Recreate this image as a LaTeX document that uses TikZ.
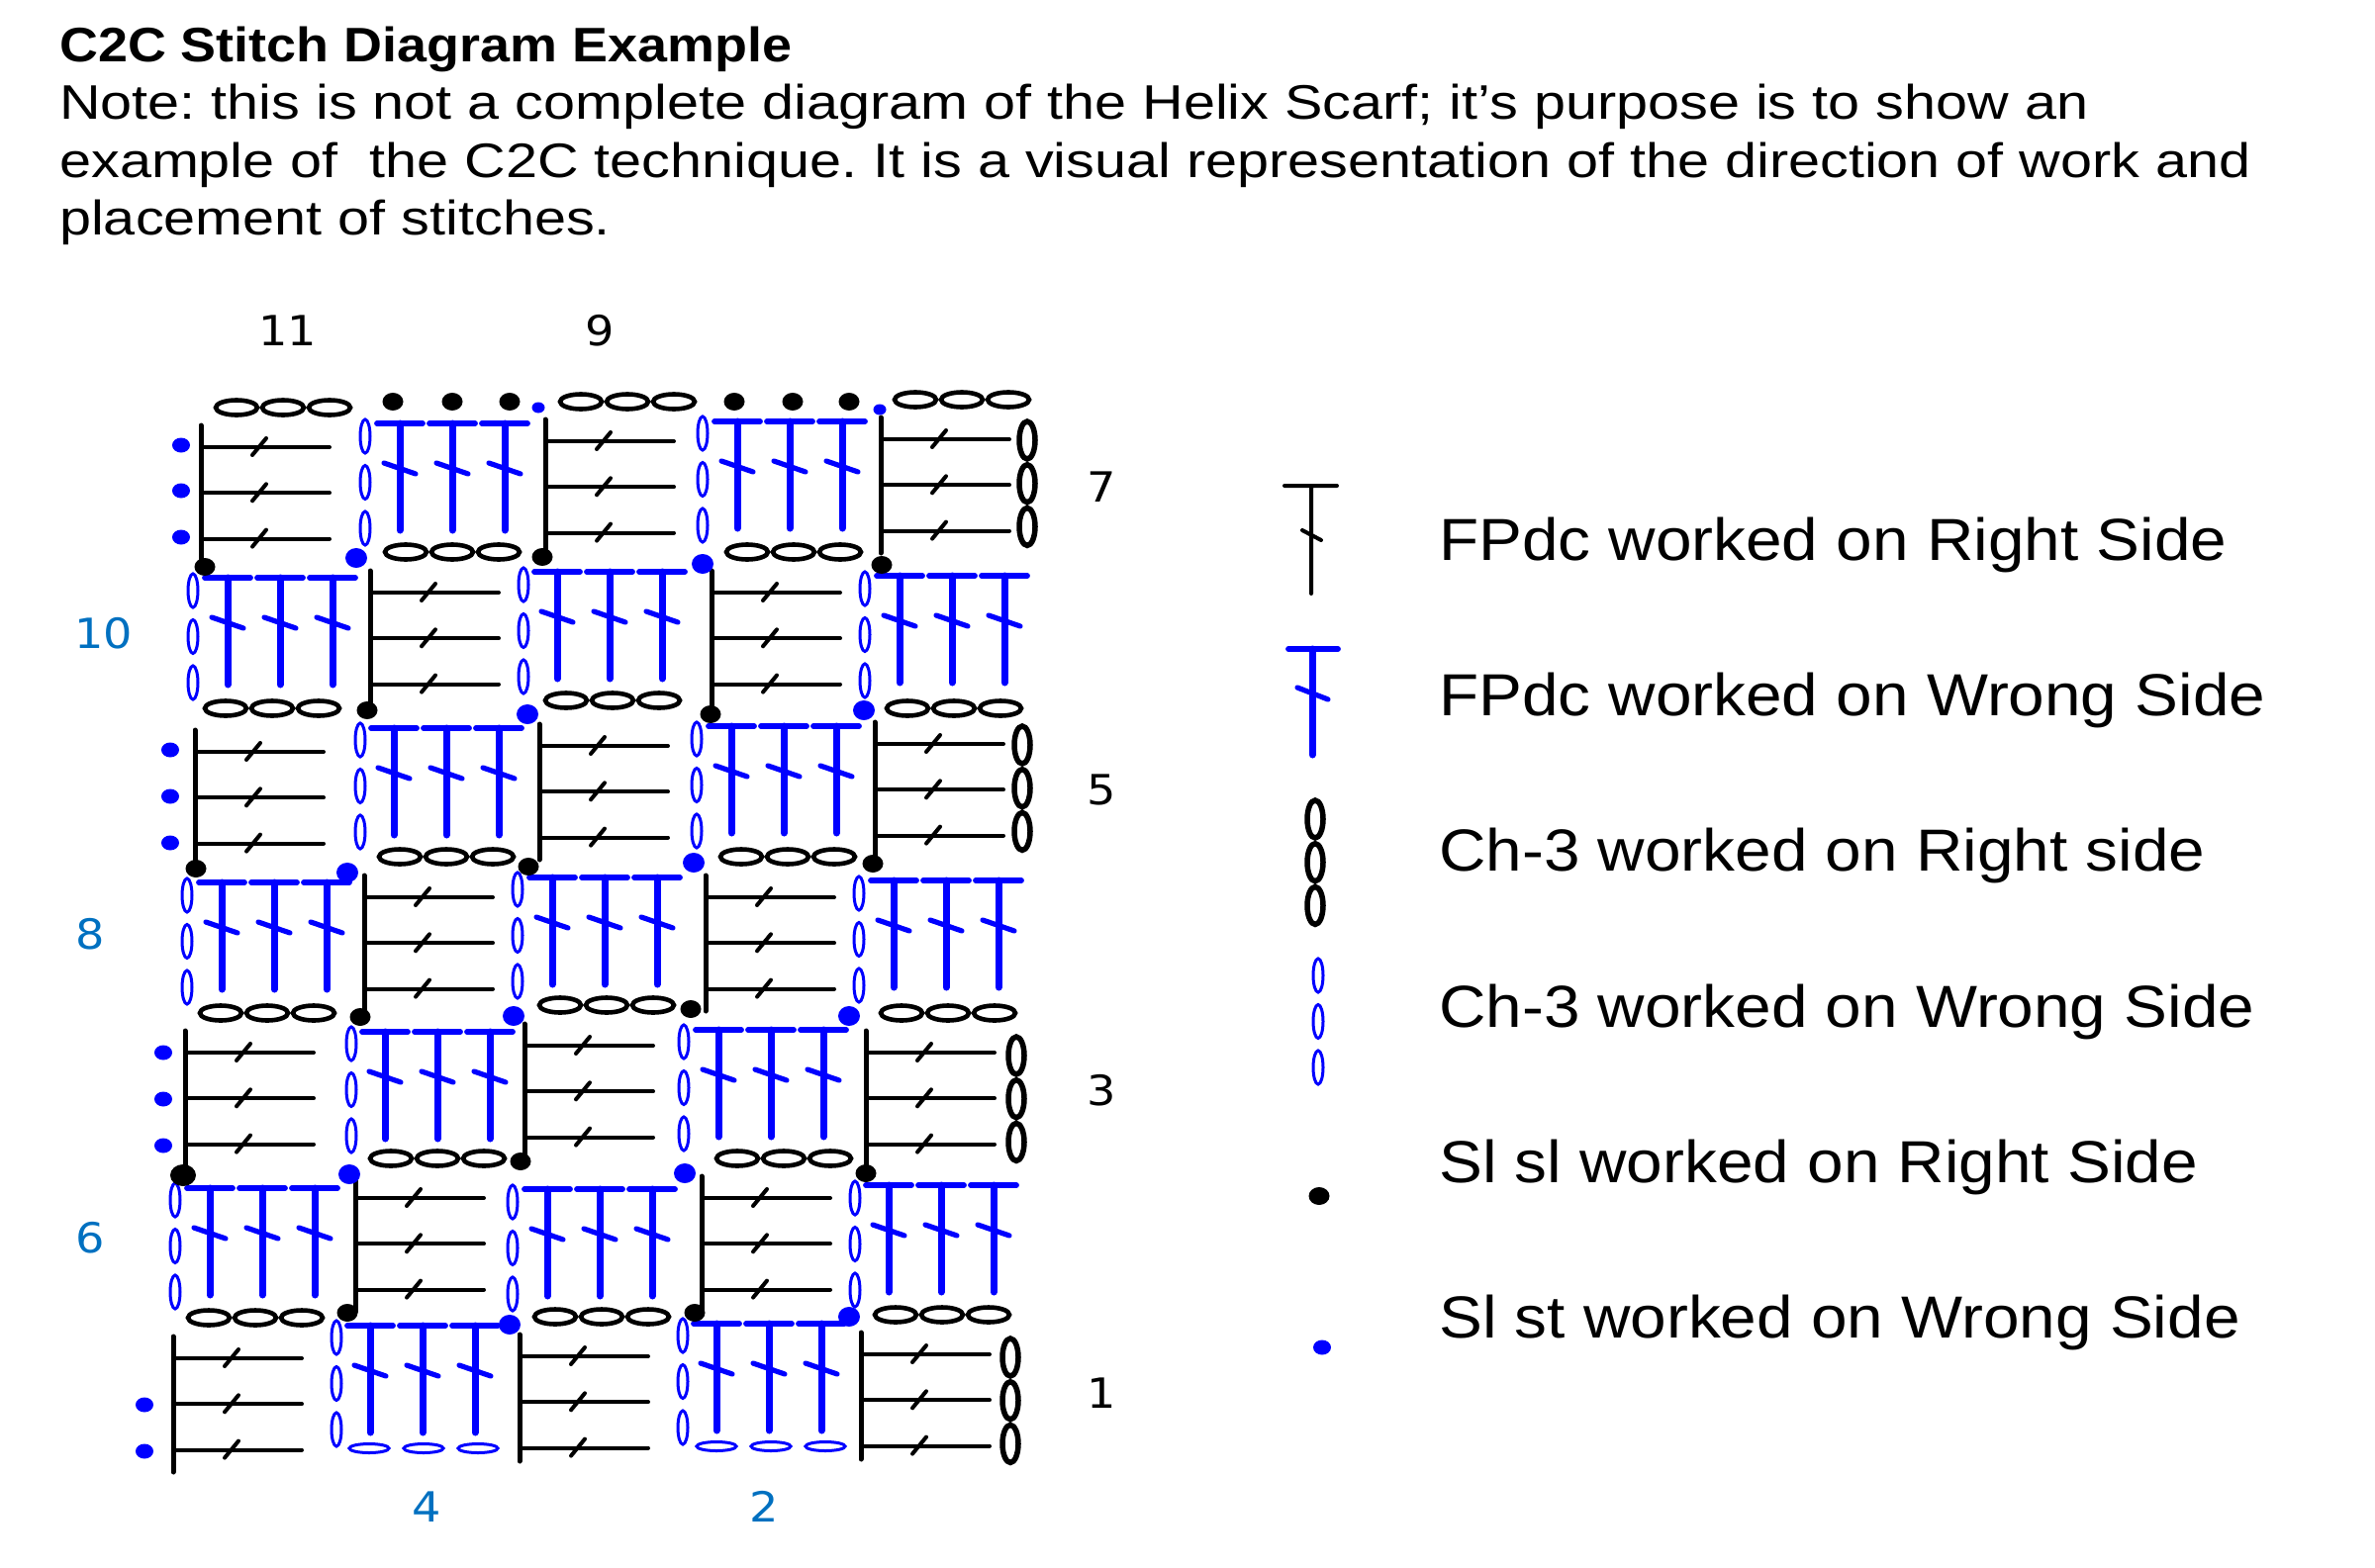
\documentclass[tikz,border=0pt]{standalone}
\usepackage{fontspec}
\setmainfont{Liberation Sans}
\newfontfamily\numfont[FakeStretch=1.1]{DejaVu Sans}
\newfontfamily\notefont[FakeStretch=1.175]{Liberation Sans}
\newfontfamily\titlefont[FakeStretch=1.1]{Liberation Sans}
\newfontfamily\keyfont[FakeStretch=1.095]{Liberation Sans}
\definecolor{wsblue}{RGB}{0,0,255}
\definecolor{rowblue}{RGB}{0,112,192}

\tikzset{
  headtext/.style={anchor=base west,inner sep=0pt,font=\notefont\fontsize{49}{58}\selectfont},
  titletext/.style={anchor=base west,inner sep=0pt,font=\titlefont\bfseries\fontsize{49}{58}\selectfont},
  legendtext/.style={anchor=base west,inner sep=0pt,font=\keyfont\fontsize{60}{70}\selectfont},
  rsnum/.style={anchor=base,inner sep=0pt,font=\numfont\fontsize{42}{50}\selectfont},
  wsnum/.style={rsnum,text=rowblue},
  rsthin/.style={black,line width=4pt,line cap=round},
  rsstem/.style={black,line width=5pt,line cap=round},
  wsbar/.style={wsblue,line width=5.8pt,line cap=round},
  wsstem/.style={wsblue,line width=7pt,line cap=round},
  wstick/.style={wsblue,line width=5.2pt,line cap=round},
  chblack/.style={black,line width=4.6pt},
  chtall/.style={black,line width=5.5pt},
  chblue/.style={wsblue,line width=3pt}
}

\newcommand{\fpright}[3][115]{
  \begin{scope}[shift={(#2,#3)}]
    \draw[rsstem] (0,-22) -- (0,#1);
    \draw[rsthin] (0,0) -- (130,0) (0,46.3) -- (130,46.3) (0,92.6) -- (130,92.6);
    \draw[rsthin] (52,8) -- (66,-9) (52,54.3) -- (66,37.3) (52,100.6) -- (66,83.6);
  \end{scope}
}
\newcommand{\fpwrong}[2]{
  \begin{scope}[shift={(#1,#2)}]
    \draw[wsbar] (-23,0) -- (23,0) (30,0) -- (76,0) (83,0) -- (129,0);
    \draw[wsstem] (0,0) -- (0,108) (53,0) -- (53,108) (106,0) -- (106,108);
    \draw[wstick] (-16,40) -- (16,51) (37,40) -- (69,51) (90,40) -- (122,51);
  \end{scope}
}
\newcommand{\chacross}[2]{
  \draw[chblack] (#1,#2) ellipse (21pt and 7.5pt) ++(47,0) ellipse (21pt and 7.5pt) ++(47,0) ellipse (21pt and 7.5pt);
}
\newcommand{\chup}[2]{
  \draw[chtall] (#1,#2) ellipse (8pt and 19pt) ++(0,43.7) ellipse (8pt and 19pt) ++(0,43.7) ellipse (8pt and 19pt);
}
\newcommand{\chupblue}[2]{
  \draw[chblue] (#1,#2) ellipse (5pt and 17pt) ++(0,46.5) ellipse (5pt and 17pt) ++(0,46.5) ellipse (5pt and 17pt);
}
\newcommand{\chflat}[2]{
  \draw[chblue] (#1,#2) ellipse (20pt and 4.5pt) ++(55,0) ellipse (20pt and 4.5pt) ++(55,0) ellipse (20pt and 4.5pt);
}
\newcommand{\slright}[2]{\fill[black] (#1,#2) ellipse (10.5pt and 9pt);}
\newcommand{\slwrong}[2]{\fill[wsblue] (#1,#2) ellipse (11pt and 10pt);}
\newcommand{\slside}[2]{\fill[wsblue] (#1,#2) ellipse (9pt and 7.5pt);}
\newcommand{\sltiny}[2]{\fill[wsblue] (#1,#2) ellipse (6.5pt and 5.5pt);}

\begin{document}
\frenchspacing
\begin{tikzpicture}[x=1pt,y=-1pt]
  \useasboundingbox (0,0) rectangle (2400,1584);

  \node[titletext] (title) at (60,63) {C2C Stitch Diagram Example};
  \node[headtext] (noteA) at (60,121) {Note: this is not a complete diagram of the Helix Scarf; it’s purpose is to show an};
  \node[headtext] (noteB) at (60,179) {example of\ \ the C2C technique. It is a visual representation of the direction of work and};
  \node[headtext] (noteC) at (60,237) {placement of stitches.};

  \node[rsnum] (row11) at (291,349) {11};
  \node[rsnum] (row9) at (606,349) {9};
  \node[rsnum] (row7) at (1113,507) {7};
  \node[rsnum] (row5) at (1113,813) {5};
  \node[rsnum] (row3) at (1113,1117) {3};
  \node[rsnum] (row1) at (1113,1423) {1};
  \node[wsnum] (row10) at (105,655) {10};
  \node[wsnum] (row8) at (91,959) {8};
  \node[wsnum] (row6) at (91,1266) {6};
  \node[wsnum] (row4) at (431,1538) {4};
  \node[wsnum] (row2) at (772,1538) {2};

  \chacross{239}{412}
  \chacross{587}{406}
  \chacross{925}{404}
  \fpright{203}{452}
  \chupblue{369}{441}
  \fpwrong{404}{428}
  \chacross{410}{558}
  \fpright{551}{446}
  \chupblue{710}{438}
  \fpwrong{745}{426}
  \chacross{755}{558}
  \fpright{890}{444}
  \chup{1038}{445}

  \chupblue{195}{597}
  \fpwrong{230}{584}
  \chacross{228}{716}
  \fpright{374}{599}
  \chupblue{529}{591}
  \fpwrong{563}{578}
  \chacross{572}{708}
  \fpright{719}{599}
  \chupblue{874}{595}
  \fpwrong{909}{582}
  \chacross{917}{716}

  \fpright{197}{760}
  \chupblue{364}{748}
  \fpwrong{398}{736}
  \chacross{404}{866}
  \fpright{545}{754}
  \chupblue{704}{747}
  \fpwrong{739}{734}
  \chacross{749}{866}
  \fpright{884}{752}
  \chup{1033}{753}

  \chupblue{189}{905}
  \fpwrong{224}{892}
  \chacross{223}{1024}
  \fpright{368}{907}
  \chupblue{523}{899}
  \fpwrong{558}{887}
  \chacross{566}{1016}
  \fpright{713}{907}
  \chupblue{868}{903}
  \fpwrong{903}{890}
  \chacross{911}{1024}

  \fpright{187}{1064}
  \chupblue{355}{1055}
  \fpwrong{389}{1043}
  \chacross{395}{1171}
  \fpright{530}{1057}
  \chupblue{691}{1053}
  \fpwrong{726}{1041}
  \chacross{745}{1171}
  \fpright{875}{1064}
  \chup{1027}{1067}

  \chupblue{177}{1213}
  \fpwrong{212}{1201}
  \chacross{211}{1332}
  \fpright{359}{1211}
  \chupblue{518}{1215}
  \fpwrong{553}{1202}
  \chacross{561}{1331}
  \fpright{709}{1211}
  \chupblue{864}{1211}
  \fpwrong{898}{1198}
  \chacross{905}{1329}

  \fpright{175}{1373}
  \chupblue{340}{1352}
  \fpwrong{374}{1340}
  \chflat{373}{1464}
  \fpright[106]{525}{1371}
  \chupblue{690}{1350}
  \fpwrong{724}{1338}
  \chflat{724}{1462}
  \fpright[106]{870}{1369}
  \chup{1021}{1372}

  \slright{397}{406}
  \slright{457}{406}
  \slright{515}{406}
  \slright{742}{406}
  \slright{801}{406}
  \slright{858}{406}
  \sltiny{544}{412}
  \sltiny{889}{414}

  \slside{183}{450}
  \slside{183}{496}
  \slside{183}{543}
  \slright{207}{573}
  \slwrong{360}{564}
  \slright{548}{563}
  \slwrong{710}{570}
  \slright{891}{571}

  \slright{371}{718}
  \slwrong{533}{722}
  \slright{718}{722}
  \slwrong{873}{718}

  \slside{172}{758}
  \slside{172}{805}
  \slside{172}{852}
  \slright{198}{878}
  \slwrong{351}{882}
  \slright{534}{876}
  \slwrong{701}{872}
  \slright{882}{873}

  \slright{364}{1028}
  \slwrong{519}{1027}
  \slright{698}{1020}
  \slwrong{858}{1027}

  \slside{165}{1064}
  \slside{165}{1111}
  \slside{165}{1158}
  \fill[black] (185,1188) ellipse (13pt and 11pt);
  \slwrong{353}{1187}
  \slright{526}{1174}
  \slwrong{692}{1186}
  \slright{875}{1186}

  \slright{351}{1327}
  \slwrong{515}{1339}
  \slright{702}{1327}
  \slwrong{858}{1331}

  \slside{146}{1420}
  \slside{146}{1467}

  \draw[rsthin] (1298,491) -- (1351,491) (1325,491) -- (1325,600) (1316,536) -- (1335,546);
  \draw[wsbar] (1302,656) -- (1352,656);
  \draw[wsstem] (1326,656) -- (1326,763);
  \draw[wstick] (1311,695) -- (1342,707);
  \chup{1329}{828}
  \chupblue{1332}{986}
  \slright{1333}{1209}
  \slside{1336}{1362}

  \node[legendtext] (keyA) at (1454,566) {FPdc worked on Right Side};
  \node[legendtext] (keyB) at (1454,723) {FPdc worked on Wrong Side};
  \node[legendtext] (keyC) at (1454,880) {Ch-3 worked on Right side};
  \node[legendtext] (keyD) at (1454,1038) {Ch-3 worked on Wrong Side};
  \node[legendtext] (keyE) at (1454,1195) {Sl sl worked on Right Side};
  \node[legendtext] (keyF) at (1454,1352) {Sl st worked on Wrong Side};
\end{tikzpicture}
\end{document}
